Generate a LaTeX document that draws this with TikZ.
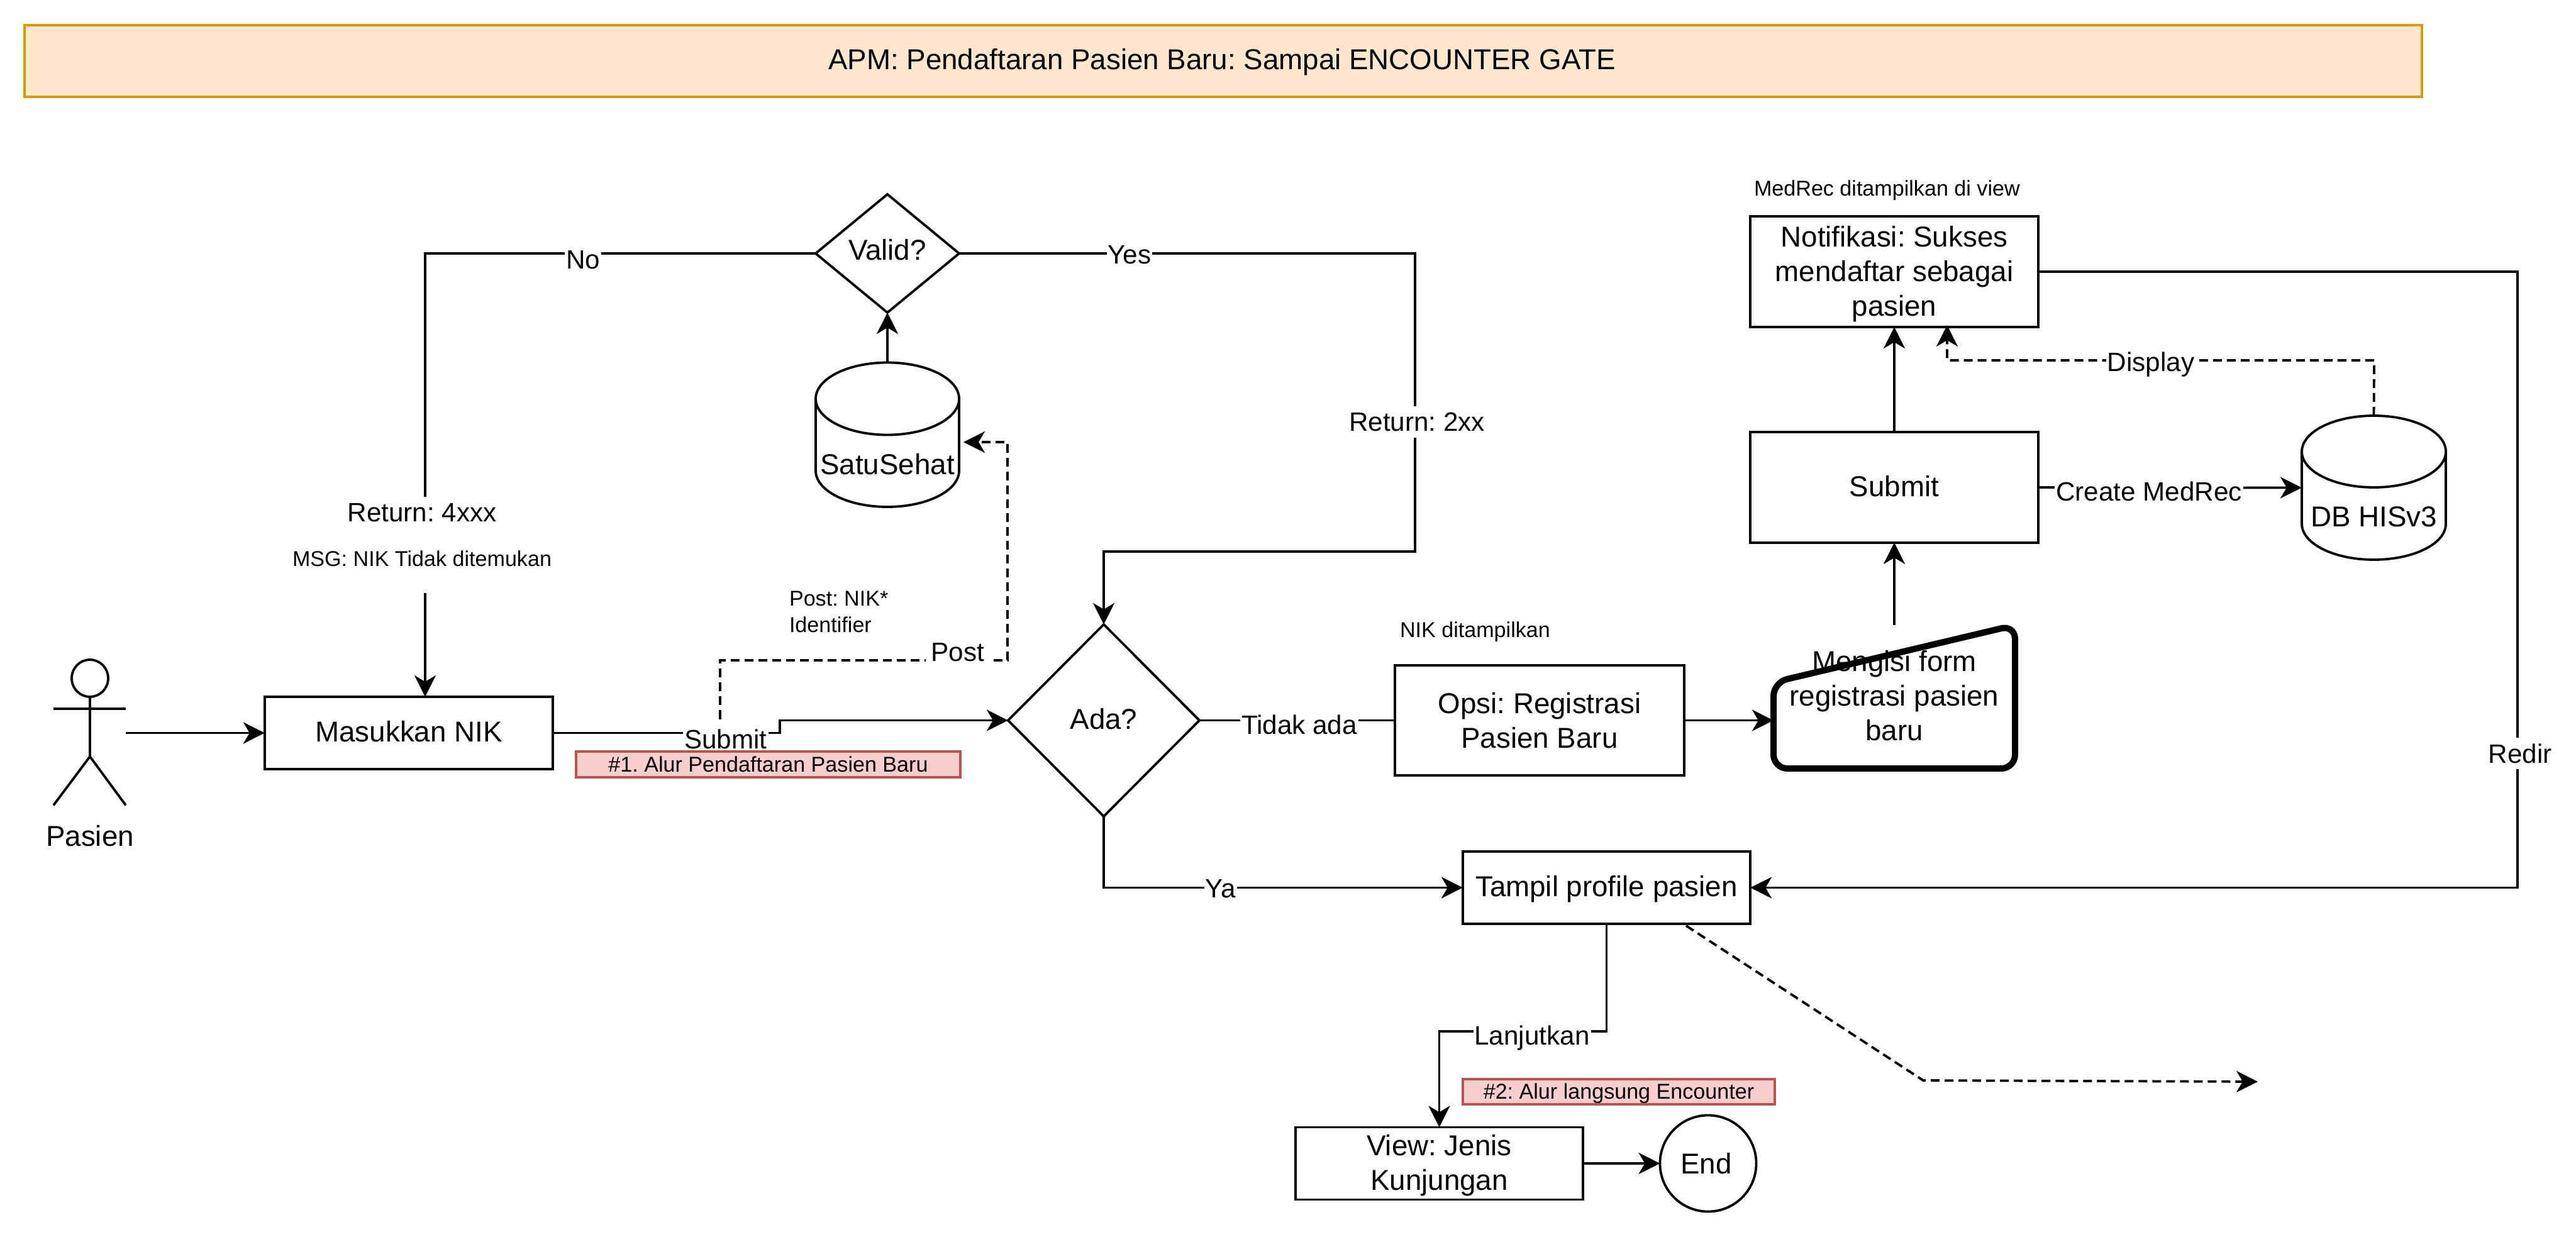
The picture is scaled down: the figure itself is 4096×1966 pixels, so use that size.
\documentclass[tikz,border=0pt]{standalone}
\usepackage{fontspec}
\setmainfont{Liberation Sans}
\usetikzlibrary{arrows.meta,shapes.geometric}
\definecolor{ttlfill}{HTML}{FFE6CC}
\definecolor{ttldraw}{HTML}{D79B00}
\definecolor{redfill}{HTML}{F8CECC}
\definecolor{reddraw}{HTML}{B85450}
\frenchspacing
\tikzset{
  every node/.style={outer sep=0pt,inner sep=0pt,align=center,text=black},
  every label/.style={fmain},
  fmain/.style={font=\fontsize{13}{15.6}\selectfont\frenchspacing},
  fedge/.style={font=\fontsize{12}{14.4}\selectfont\frenchspacing},
  fsmall/.style={font=\fontsize{9.7}{11.9}\selectfont\frenchspacing},
  boxnode/.style={draw=black,line width=.038cm,rectangle,fmain},
  ghost/.style={rectangle,draw=none},
  lbl/.style={fedge,fill=white,inner xsep=.02cm,minimum height=.5cm},
  note/.style={fsmall},
  tag/.style={rectangle,draw=reddraw,fill=redfill,line width=.038cm,fsmall},
  flow/.style={draw=black,line width=.038cm,-{Stealth[length=.34cm,width=.34cm,inset=.1cm]}},
  plainline/.style={draw=black,line width=.038cm},
  dashline/.style={flow,dash pattern=on .14cm off .08cm},
}
\begin{document}
\begin{tikzpicture}[x=.01cm,y=-.01cm]
\useasboundingbox (0,0) rectangle (4096,1966);

% title
\node[boxnode,draw=ttldraw,fill=ttlfill,minimum width=38.10cm,minimum height=1.14cm,label={[yshift=-.015cm,xshift=-.02cm]center:APM: Pendaftaran Pasien Baru: Sampai ENCOUNTER GATE}] (title) at (1945,97) {};

% actor
\node[ghost,minimum width=1.15cm,minimum height=2.31cm] (actor) at (142.5,1165) {};
\draw[plainline] (143,1078.5) ellipse [x radius=29,y radius=29.5];
\draw[plainline] (85,1127) -- (200,1127);
\draw[plainline] (143,1108) -- (143,1203);
\draw[plainline] (85,1280.5) -- (143,1203) -- (200,1280.5);
\node[fmain] (pasien) at (143,1329) {Pasien};

% boxes
\node[boxnode,minimum width=4.58cm,minimum height=1.15cm,label={[yshift=.02cm]center:Masukkan NIK}] (nik) at (650,1165.5) {};
\node[boxnode,diamond,aspect=1,minimum width=3.04cm,minimum height=3.05cm,label={[yshift=.02cm]center:Ada?}] (ada) at (1755,1145.5) {};
\node[boxnode,diamond,aspect=1.2,minimum width=2.28cm,minimum height=1.88cm,label={[yshift=.06cm]center:Valid?}] (valid) at (1411,403) {};
\node[boxnode,minimum width=4.6cm,minimum height=1.75cm] (opsi) at (2448,1145.5) {Opsi: Registrasi\\Pasien Baru};
\node[boxnode,minimum width=4.58cm,minimum height=1.76cm,label={[yshift=-.04cm]center:{Notifikasi: Sukses\\mendaftar sebagai\\pasien}}] (notif) at (3012,432) {};
\node[boxnode,minimum width=4.58cm,minimum height=1.755cm,label={[yshift=.02cm]center:Submit}] (submit) at (3012,775) {};
\node[boxnode,minimum width=4.57cm,minimum height=1.15cm,label={[yshift=-.02cm]center:Tampil profile pasien}] (tampil) at (2554.5,1411.5) {};
\node[boxnode,minimum width=4.57cm,minimum height=1.15cm,label={[yshift=-.03cm]center:{View: Jenis\\Kunjungan}}] (view) at (2288.5,1850) {};
\node[boxnode,circle,minimum size=1.53cm,label={[xshift=-.03cm]center:End}] (end) at (2716,1850) {};

% SatuSehat cylinder
\node[ghost,minimum width=2.28cm,minimum height=2.30cm] (sat) at (1411,691) {};
\draw[plainline] (1297,634) arc[start angle=180,end angle=0,x radius=114,y radius=57.5]
  arc[start angle=0,end angle=-180,x radius=114,y radius=57.5] -- (1297,748.5)
  arc[start angle=180,end angle=0,x radius=114,y radius=57.5] -- (1525,634);
\node[fmain] (satlabel) at (1411,738) {SatuSehat};

% DB cylinder
\node[ghost,minimum width=2.29cm,minimum height=2.29cm] (db) at (3774.5,775.5) {};
\draw[plainline] (3660,718) arc[start angle=180,end angle=0,x radius=114.5,y radius=57]
  arc[start angle=0,end angle=-180,x radius=114.5,y radius=57] -- (3660,833)
  arc[start angle=180,end angle=0,x radius=114.5,y radius=57] -- (3889,718);
\node[fmain] (dblabel) at (3774.5,822) {DB HISv3};

% manual input form
\node[ghost,minimum width=3.84cm,minimum height=2.285cm] (form) at (3012,1108) {};
\draw[draw=black,line width=.1cm,rounded corners=.22cm,line join=round] (2820,1085) -- (3204,994) -- (3204,1222) -- (2820,1222) -- cycle;
\node[fmain] (formlabel) at (3012,1106) {Mengisi form\\registrasi pasien\\baru};

% connector way points
\coordinate (dashstart) at (1145,1165.5);
\coordinate (satin) at (1532,703);
\coordinate (notifin) at (3096,517);
\coordinate (dashfree) at (3590,1720);
\coordinate (tampilout) at (2681,1472);

% connectors
\draw[flow] (actor.east |- nik.west) -- (nik.west);
\draw[flow] (nik.east) -- (1240,1165.5) -- (1240,1145.5) -- (ada.west);
\draw[flow] (valid.west) -- (676,403) -- (676,1108);
\draw[flow] (valid.east) -- (2250,403) -- (2250,877) -- (1755,877) -- (ada.north);
\draw[flow] (sat.north) -- (valid.south);
\draw[dashline] (dashstart) -- (1145,1050) -- (1602,1050) -- (1602,703) -- (satin);
\draw[plainline] (ada.east) -- (opsi.west);
\draw[flow] (opsi.east) -- (opsi.east -| form.west);
\draw[flow] (form.north) -- (submit.south);
\draw[flow] (submit.north) -- (notif.south);
\draw[flow] (submit.east) -- (db.west);
\draw[dashline] (db.north) -- (3775,573) -- (3096,573) -- (notifin);
\draw[flow] (notif.east) -- (4003,432) -- (4003,1411.5) -- (tampil.east);
\draw[flow] (ada.south) -- (1755,1411.5) -- (tampil.west);
\draw[flow] (tampil.south) -- (2554.5,1640) -- (2288.5,1640) -- (view.north);
\draw[flow] (view.east) -- (end.west);
\draw[dashline] (tampilout) -- (3058,1718) -- (dashfree);

% edge labels
\node[lbl] (lno) at (927,413) {No};
\node[lbl] (lyes) at (1796,405) {Yes};
\node[lbl] (lret2) at (2253,671) {Return: 2xx};
\node[lbl] (lret4) at (671,815) {Return: 4xxx};
\node[note,fill=white,minimum width=4.15cm,minimum height=1.10cm] (lmsg) at (671,888) {MSG: NIK Tidak ditemukan};
\node[lbl] (lsubmit) at (1154,1175) {Submit};
\node[lbl,inner xsep=.09cm] (lpost) at (1523,1037) {Post};
\node[lbl] (ltidak) at (2066,1152) {Tidak ada};
\node[lbl] (lya) at (1941,1413) {Ya};
\node[lbl] (lcreate) at (3417,781) {Create MedRec};
\node[lbl] (ldisplay) at (3420,580) {Display};
\node[lbl] (lredir) at (4007,1198) {Redir};
\node[lbl] (llanjut) at (2436,1651) {Lanjutkan};

% notes and tags
\node[note,align=left,anchor=west] (lpostnik) at (1255,973) {Post: NIK*\\Identifier};
\node[note,anchor=west] (lniktxt) at (2226,1005) {NIK ditampilkan};
\node[note,anchor=west] (lmedrec) at (2789,303) {MedRec ditampilkan di view};
\node[tag,minimum width=6.11cm,minimum height=.41cm] (tag1) at (1221.5,1215.5) {\#1. Alur Pendaftaran Pasien Baru};
\node[tag,minimum width=4.96cm,minimum height=.40cm,label={[fsmall,yshift=-.025cm]center:\#2: Alur langsung Encounter}] (tag2) at (2574,1736) {};
\end{tikzpicture}
\end{document}
